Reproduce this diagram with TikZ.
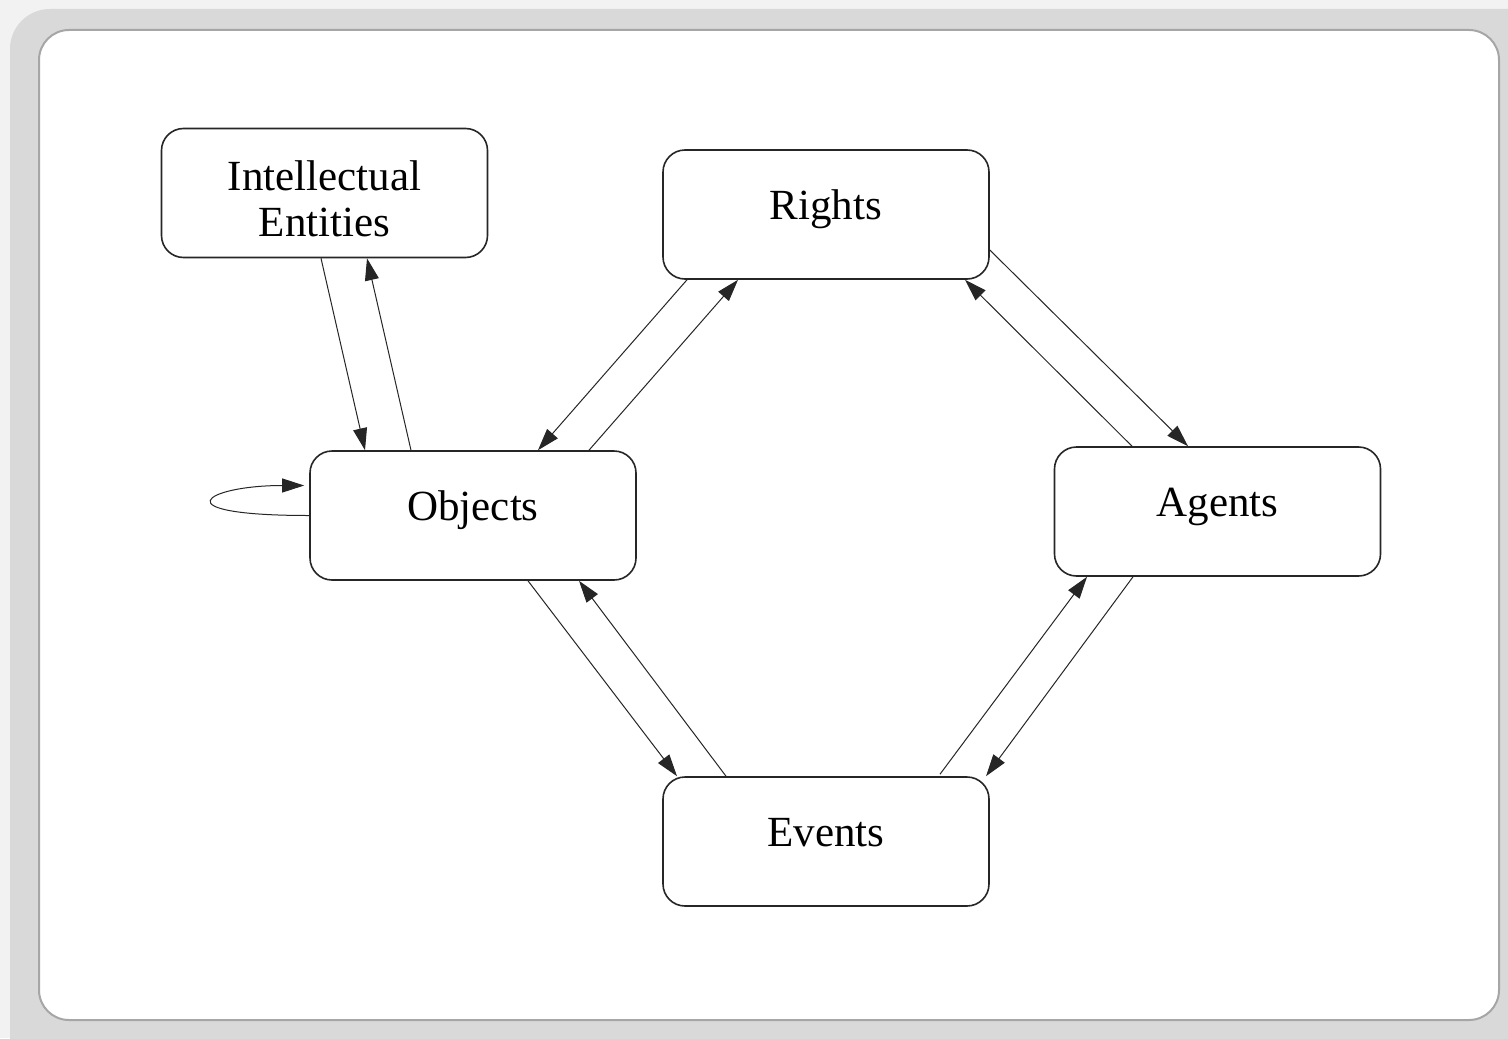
\documentclass[tikz,border=0pt]{standalone}
\usepackage{fontspec}
\setmainfont{Liberation Serif}
\usetikzlibrary{arrows.meta,calc}
\begin{document}
\begin{tikzpicture}[x=0.5pt,y=-0.5pt,>={Triangle[length=11pt,width=7pt]},
	box/.style={draw=black!85,line width=0.8pt,rounded corners=11pt,minimum width=163pt,minimum height=64.5pt,align=center,font=\fontsize{21.5}{23}\selectfont},
	word/.style={box,text height=15pt,text depth=10pt},
	link/.style={->,line width=0.5pt,draw=black!85}]
	\useasboundingbox (0,0) rectangle (1508,1038);
	\fill[black!5] (0,0) rectangle (1508,1038);
	\fill[black!15,rounded corners=20pt] (10,9) rectangle (1560,1090);
	\draw[fill=white,draw=black!35,line width=1pt,rounded corners=15pt] (39,30) rectangle (1499,1020);
	\node[box,text height=44pt] (ie) at (324.5,193) {Intellectual\\Entities};
	\node[word] (rights) at (826,214.5) {Rights};
	\node[word] (obj) at (473,515.5) {Objects};
	\node[word] (agents) at (1217.5,511.5) {Agents};
	\node[word] (events) at (826,841.5) {Events};
	\draw[link] ($(ie.south)+(-3.5,0)$)--($(obj.north)+(-108,0)$);
	\draw[link] ($(obj.north)+(-62,0)$)--($(ie.south)+(42.5,0)$);
	\draw[link] ($(rights.south)+(-139,0)$)--($(obj.north)+(65,0)$);
	\draw[link] ($(obj.north)+(116,0)$)--($(rights.south)+(-88,0)$);
	\draw[link] ($(rights.east)+(0,35.5)$)--($(agents.north)+(-29.5,0)$);
	\draw[link] ($(agents.north)+(-85.5,0)$)--($(rights.south)+(139,0)$);
	\draw[link] ($(obj.south)+(55,0)$)--($(events.north)+(-149,0)$);
	\draw[link] ($(events.north)+(-100,0)$)--($(obj.south)+(106,0)$);
	\draw[link] ($(events.north)+(114,-2)$)--($(agents.south)+(-130.5,0)$);
	\draw[link] ($(agents.south)+(-84.5,0)$)--($(events.north)+(160,0)$);
	\draw[link] (obj.west) .. controls +(-150,0) and +(-100,0) .. ($(obj.west)+(-5,-30)$);
\end{tikzpicture}
\end{document}
